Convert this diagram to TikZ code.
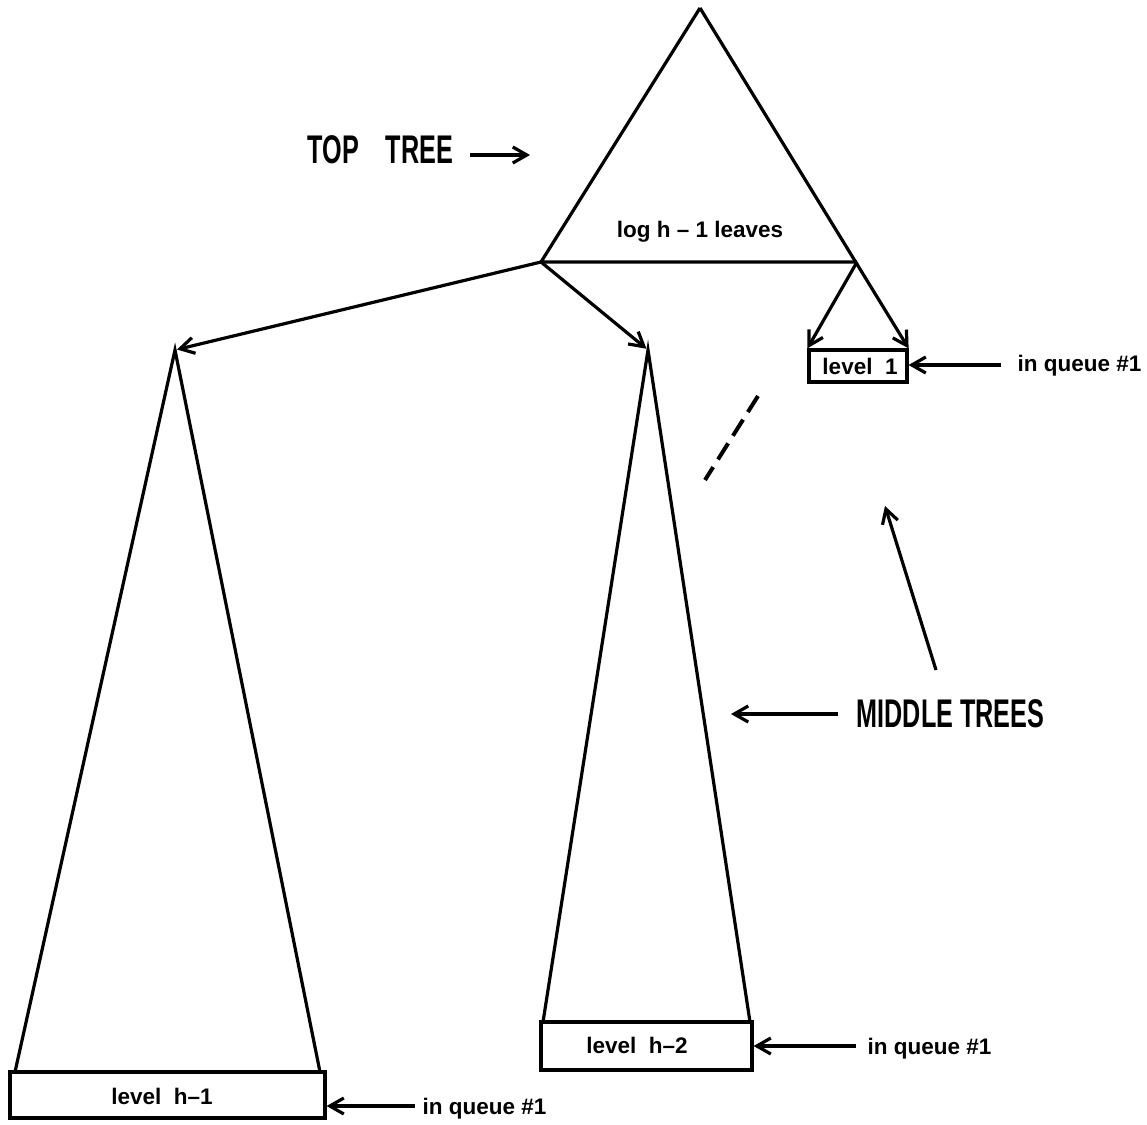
\documentclass[tikz,border=0pt]{standalone}
\usepackage{fontspec}
\setmainfont{Liberation Sans}
\newfontfamily\narrowfont[FakeStretch=0.63]{Liberation Sans}
\usetikzlibrary{arrows.meta}
\begin{document}
\begin{tikzpicture}[x=1pt,y=-1pt,line width=3.2pt,line join=miter,
  arr/.style={-{Straight Barb[length=14pt,width=16pt]}},
  lbl/.style={font=\fontsize{22.5}{26}\selectfont\bfseries,inner sep=0pt},
  big/.style={font=\narrowfont\fontsize{40}{44}\selectfont\bfseries,inner sep=0pt},
  lvlbox/.style={draw,inner sep=0pt}]
\useasboundingbox (0,0) rectangle (1147,1124);
% top tree
\coordinate (apex) at (700,8);
\coordinate (tbl) at (541,262);
\coordinate (tbr) at (857,262);
\draw (tbr) -- (tbl) -- (apex);
\node[lbl,anchor=base] (leaves) at (700,237) {log h -- 1 leaves};
% level 1 box
\node[lvlbox,minimum width=98pt,minimum height=32pt] (l1) at (858,366) {};
\node[lbl,anchor=base] (l1t) at (860,374) {level\ \ 1};
\draw[arr] (apex) -- (l1.north east);
\draw[arr] (tbr) -- (l1.north west);
% left middle tree
\coordinate (lapex) at (175,350);
\node[lvlbox,minimum width=315pt,minimum height=46pt] (lbox) at (167.5,1095) {};
\node[lbl,anchor=base] (lboxt) at (162,1104) {level\ \ h--1};
\coordinate (ll) at (15,1072);
\coordinate (lr) at (320,1072);
\draw (ll) -- (lapex) -- (lr);
\draw[arr,shorten >=2pt] (tbl) -- (lapex);
% middle tree
\coordinate (mapex) at (648,350);
\node[lvlbox,minimum width=211pt,minimum height=48pt] (mbox) at (646.5,1046) {};
\node[lbl,anchor=base] (mboxt) at (637,1053) {level\ \ h--2};
\coordinate (ml) at (543,1022);
\coordinate (mr) at (750,1022);
\draw (ml) -- (mapex) -- (mr);
\draw[arr,shorten >=2pt] (tbl) -- (mapex);
% dashed
\coordinate (d1) at (758,396);
\coordinate (d2) at (705,480);
\draw[line width=4pt,dash pattern=on 19pt off 9pt] (d1) -- (d2);
% in queue labels
\node[lbl,anchor=base west] (q1) at (1016,371) {in queue \#1};
\coordinate (q1a) at (1001,365);
\draw[arr] (q1a) -- (q1a -| l1.east);
\node[lbl,anchor=base west] (q2) at (866,1054) {in queue \#1};
\coordinate (q2a) at (856,1046);
\draw[arr] (q2a) -- (q2a -| mbox.east);
\node[lbl,anchor=base west] (q3) at (421,1114) {in queue \#1};
\coordinate (q3a) at (415,1106);
\draw[arr] (q3a) -- (q3a -| lbox.east);
% TOP TREE
\node[big,anchor=base west] (top) at (306,163) {TOP\hspace{27pt}TREE};
\coordinate (tta) at (470,155);
\coordinate (ttb) at (530,155);
\draw[arr] (tta) -- (ttb);
% MIDDLE TREES
\node[big,anchor=base west] (mid) at (855,727) {MIDDLE TREES};
\coordinate (mta) at (838,714);
\coordinate (mtb) at (731,714);
\draw[arr] (mta) -- (mtb);
\coordinate (mua) at (936,670);
\coordinate (mub) at (885,506);
\draw[arr] (mua) -- (mub);
\end{tikzpicture}
\end{document}
